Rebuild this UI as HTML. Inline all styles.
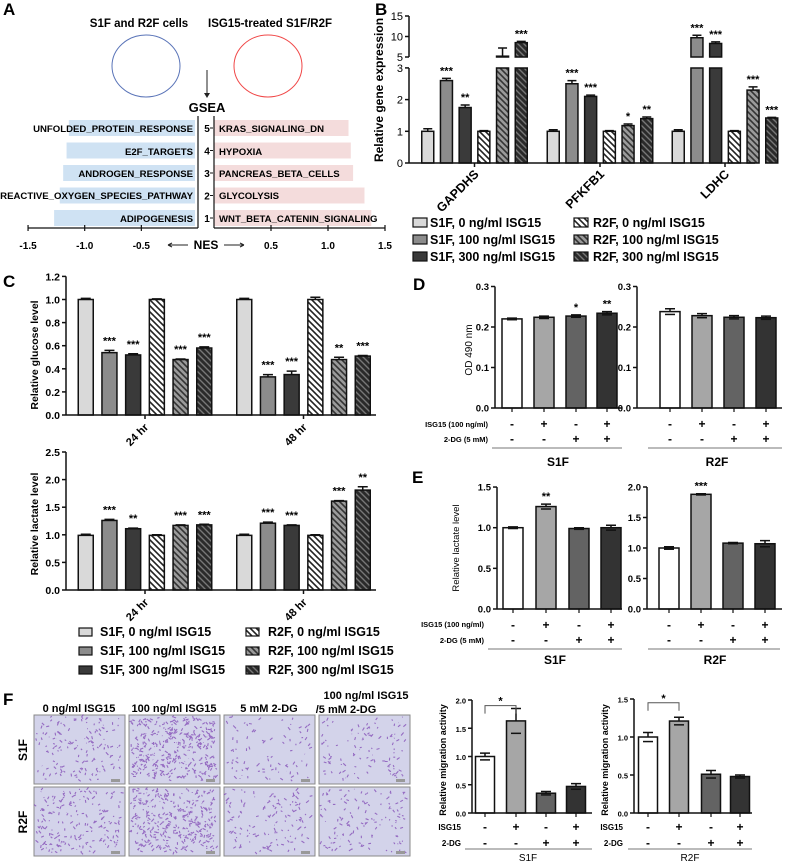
<!DOCTYPE html>
<html><head><meta charset="utf-8"><style>
html,body{margin:0;padding:0;background:#fff;}
svg{display:block;font-family:"Liberation Sans",Arial,sans-serif;font-weight:bold;}
</style></head><body>
<svg id="fig" xmlns="http://www.w3.org/2000/svg" width="790" height="862" viewBox="0 0 790 862">
<defs>
<pattern id="hL" width="6" height="6" patternUnits="userSpaceOnUse"><rect width="6" height="6" fill="#fff"/><path d="M-1,-1 L7,7 M-1,5 L1,7 M5,-1 L7,1" stroke="#222" stroke-width="1.6"/></pattern>
<pattern id="hM" width="6" height="6" patternUnits="userSpaceOnUse"><rect width="6" height="6" fill="#9a9a9a"/><path d="M-1,-1 L7,7 M-1,5 L1,7 M5,-1 L7,1" stroke="#333" stroke-width="1.6"/></pattern>
<pattern id="hD" width="6" height="6" patternUnits="userSpaceOnUse"><rect width="6" height="6" fill="#2a2a2a"/><path d="M-1,-1 L7,7 M-1,5 L1,7 M5,-1 L7,1" stroke="#777" stroke-width="1.4"/></pattern>
</defs>

<!-- Panel A -->
<g>
<text x="3" y="15" font-size="17">A</text>
<text x="139" y="27" font-size="11.5" text-anchor="middle">S1F and R2F cells</text>
<text x="270" y="27" font-size="11.5" text-anchor="middle">ISG15-treated S1F/R2F</text>
<ellipse cx="146" cy="66" rx="34" ry="31" fill="none" stroke="#5a74b8" stroke-width="1"/>
<ellipse cx="268" cy="66" rx="34" ry="31" fill="none" stroke="#f04848" stroke-width="1"/>
<line x1="207" y1="70" x2="207" y2="95" stroke="#222" stroke-width="1"/>
<path d="M204,93 L207,98 L210,93 Z" fill="#222"/>
<text x="207" y="112" font-size="13" text-anchor="middle">GSEA</text>
<g id="gseaBars"></g>
<g font-size="9.6" text-anchor="end">
<text x="193" y="132">UNFOLDED_PROTEIN_RESPONSE</text>
<text x="193" y="155">E2F_TARGETS</text>
<text x="193" y="177">ANDROGEN_RESPONSE</text>
<text x="193" y="199">REACTIVE_OXYGEN_SPECIES_PATHWAY</text>
<text x="193" y="222">ADIPOGENESIS</text>
</g>
<g font-size="9.6">
<text x="219" y="132">KRAS_SIGNALING_DN</text>
<text x="219" y="155">HYPOXIA</text>
<text x="219" y="177">PANCREAS_BETA_CELLS</text>
<text x="219" y="199">GLYCOLYSIS</text>
<text x="219" y="222">WNT_BETA_CATENIN_SIGNALING</text>
</g>
<text x="206" y="249" font-size="12" text-anchor="middle">NES</text>
<path d="M168,245 L188,245 M168,245 L172,243 M168,245 L172,247 M224,245 L244,245 M244,245 L240,243 M244,245 L240,247" stroke="#222" stroke-width="1" fill="none"/>
</g>

<!-- Panel B -->
<g>
<text x="375" y="15" font-size="17">B</text>
<text transform="translate(383,90) rotate(-90)" font-size="12" text-anchor="middle">Relative gene expression</text>
<g id="panelB"></g>
<g font-size="12.5">
<rect x="413" y="218" width="14" height="9" fill="#d9d9d9" stroke="#111" stroke-width="1.2"/>
<text x="430" y="227">S1F, 0 ng/ml ISG15</text>
<rect x="413" y="235" width="14" height="9" fill="#8c8c8c" stroke="#111" stroke-width="1.2"/>
<text x="430" y="244">S1F, 100 ng/ml ISG15</text>
<rect x="413" y="252" width="14" height="9" fill="#3a3a3a" stroke="#111" stroke-width="1.2"/>
<text x="430" y="261">S1F, 300 ng/ml ISG15</text>
<rect x="574" y="218" width="14" height="9" fill="url(#hL)" stroke="#111" stroke-width="1.2"/>
<text x="593" y="227">R2F, 0 ng/ml ISG15</text>
<rect x="574" y="235" width="14" height="9" fill="url(#hM)" stroke="#111" stroke-width="1.2"/>
<text x="593" y="244">R2F, 100 ng/ml ISG15</text>
<rect x="574" y="252" width="14" height="9" fill="url(#hD)" stroke="#111" stroke-width="1.2"/>
<text x="593" y="261">R2F, 300 ng/ml ISG15</text>
</g>
</g>

<!-- Panel C -->
<g>
<text x="3" y="287" font-size="17">C</text>
<text transform="translate(38,355) rotate(-90)" font-size="10.5" text-anchor="middle">Relative glucose level</text>
<text transform="translate(38,524) rotate(-90)" font-size="10.5" text-anchor="middle">Relative lactate level</text>
<g id="panelC"></g>
<g font-size="12.5">
<rect x="79" y="628" width="13" height="8" fill="#d9d9d9" stroke="#111" stroke-width="1.2"/>
<text x="100" y="636">S1F, 0 ng/ml ISG15</text>
<rect x="79" y="647" width="13" height="8" fill="#8c8c8c" stroke="#111" stroke-width="1.2"/>
<text x="100" y="655">S1F, 100 ng/ml ISG15</text>
<rect x="79" y="666" width="13" height="8" fill="#3a3a3a" stroke="#111" stroke-width="1.2"/>
<text x="100" y="674">S1F, 300 ng/ml ISG15</text>
<rect x="246" y="628" width="13" height="8" fill="url(#hL)" stroke="#111" stroke-width="1.2"/>
<text x="268" y="636">R2F, 0 ng/ml ISG15</text>
<rect x="246" y="647" width="13" height="8" fill="url(#hM)" stroke="#111" stroke-width="1.2"/>
<text x="268" y="655">R2F, 100 ng/ml ISG15</text>
<rect x="246" y="666" width="13" height="8" fill="url(#hD)" stroke="#111" stroke-width="1.2"/>
<text x="268" y="674">R2F, 300 ng/ml ISG15</text>
</g>
</g>

<!-- Panel D -->
<g>
<text x="413" y="290" font-size="17">D</text>
<text transform="translate(472,350) rotate(-90)" font-size="10" font-weight="normal" text-anchor="middle">OD 490 nm</text>
<g font-size="7.5" text-anchor="end">
<text x="488" y="427">ISG15 (100 ng/ml)</text>
<text x="488" y="442">2-DG (5 mM)</text>
</g>
<text x="558" y="466" font-size="12" text-anchor="middle">S1F</text>
<text x="717" y="466" font-size="12" text-anchor="middle">R2F</text>
<g id="panelD"></g>
</g>

<!-- Panel E -->
<g>
<text x="412" y="483" font-size="17">E</text>
<text transform="translate(459,548) rotate(-90)" font-size="9.5" font-weight="normal" text-anchor="middle">Relative lactate level</text>
<g font-size="7.5" text-anchor="end">
<text x="484" y="627">ISG15 (100 ng/ml)</text>
<text x="484" y="643">2-DG (5 mM)</text>
</g>
<text x="555" y="664" font-size="12" text-anchor="middle">S1F</text>
<text x="715" y="664" font-size="12" text-anchor="middle">R2F</text>
<g id="panelE"></g>
</g>

<!-- Panel F -->
<g>
<text x="3" y="705" font-size="17">F</text>
<g font-size="11" text-anchor="middle">
<text x="79" y="712">0 ng/ml ISG15</text>
<text x="174" y="712">100 ng/ml ISG15</text>
<text x="269" y="712">5 mM 2-DG</text>
<text x="366" y="699">100 ng/ml ISG15</text>
<text x="346" y="713">/5 mM 2-DG</text>
</g>
<text transform="translate(27,750) rotate(-90)" font-size="12" text-anchor="middle">S1F</text>
<text transform="translate(27,822) rotate(-90)" font-size="12" text-anchor="middle">R2F</text>
<g id="fImages"></g>
<text transform="translate(446,760) rotate(-90)" font-size="9" text-anchor="middle">Relative migration activity</text>
<text transform="translate(608,760) rotate(-90)" font-size="9" text-anchor="middle">Relative migration activity</text>
<g font-size="8" text-anchor="end">
<text x="461" y="830">ISG15</text>
<text x="461" y="846">2-DG</text>
<text x="623" y="830">ISG15</text>
<text x="623" y="846">2-DG</text>
</g>
<text x="528" y="861" font-size="10" text-anchor="middle" font-weight="normal">S1F</text>
<text x="690" y="861" font-size="10" text-anchor="middle" font-weight="normal">R2F</text>
<g id="panelF"></g>
</g>
</svg>

<script>
// ---------- DATA ----------
const gseaRanks = ['5','4','3','2','1'];
const gseaNeg = [-1.14, -1.16, -1.19, -1.22, -1.27];
const gseaPos = [1.18, 1.20, 1.22, 1.32, 1.38];
const gseaTicks = [-1.5, -1.0, -0.5, 0.5, 1.0, 1.5];
const gseaTickLabels = ['-1.5', '-1.0', '-0.5', '0.5', '1.0', '1.5'];

const bGenes = ['GAPDHS', 'PFKFB1', 'LDHC'];
const bVals = [[1.0, 2.6, 1.75, 1.0, 5.2, 8.5], [1.0, 2.5, 2.1, 1.0, 1.18, 1.4], [1.0, 9.7, 8.3, 1.0, 2.3, 1.42]];
const bErr = [[0.08, 0.07, 0.08, 0.02, 2.0, 0.3], [0.05, 0.1, 0.04, 0.02, 0.05, 0.05], [0.05, 0.6, 0.4, 0.02, 0.1, 0.02]];
const bStars = [['', '***', '**', '', '', '***'], ['', '***', '***', '', '*', '**'], ['', '***', '***', '', '***', '***']];
const bTicksLow = [0, 1, 2, 3];
const bTicksHigh = [5, 10, 15];

const cGroups = ['24 hr', '48 hr'];
const cGlu = [[1.0, 0.54, 0.52, 1.0, 0.48, 0.58], [1.0, 0.33, 0.35, 1.0, 0.48, 0.51]];
const cGluErr = [[0.01, 0.02, 0.01, 0.005, 0.005, 0.01], [0.01, 0.02, 0.03, 0.02, 0.02, 0.005]];
const cGluStars = [['', '***', '***', '', '***', '***'], ['', '***', '***', '', '**', '***']];
const cGluTicks = [0, 0.2, 0.4, 0.6, 0.8, 1.0, 1.2];
const cGluTickLabels = ['0.0', '0.2', '0.4', '0.6', '0.8', '1.0', '1.2'];
const cLac = [[0.99, 1.26, 1.11, 0.99, 1.17, 1.18], [0.99, 1.21, 1.17, 0.99, 1.61, 1.81]];
const cLacErr = [[0.02, 0.02, 0.01, 0.01, 0.01, 0.01], [0.02, 0.02, 0.01, 0.01, 0.01, 0.06]];
const cLacStars = [['', '***', '**', '', '***', '***'], ['', '***', '***', '', '***', '**']];
const cLacTicks = [0, 0.5, 1.0, 1.5, 2.0, 2.5];
const cLacTickLabels = ['0.0', '0.5', '1.0', '1.5', '2.0', '2.5'];

const isgSigns = ['-', '+', '-', '+'];
const dgSigns = ['-', '-', '+', '+'];

const dS1F = [0.220, 0.224, 0.227, 0.234];
const dS1FErr = [0.002, 0.003, 0.003, 0.004];
const dS1FStars = ['', '', '*', '**'];
const dR2F = [0.238, 0.228, 0.224, 0.223];
const dR2FErr = [0.007, 0.005, 0.004, 0.004];
const dR2FStars = ['', '', '', ''];
const dTicks = [0, 0.1, 0.2, 0.3];
const dTickLabels = ['0.0', '0.1', '0.2', '0.3'];

const eS1F = [1.0, 1.26, 0.99, 1.0];
const eS1FErr = [0.01, 0.03, 0.01, 0.03];
const eS1FStars = ['', '**', '', ''];
const eR2F = [1.0, 1.88, 1.08, 1.07];
const eR2FErr = [0.02, 0.01, 0.01, 0.05];
const eR2FStars = ['', '***', '', ''];
const eS1FTicks = [0, 0.5, 1.0, 1.5];
const eS1FTickLabels = ['0.0', '0.5', '1.0', '1.5'];
const eR2FTicks = [0, 0.5, 1.0, 1.5, 2.0];
const eR2FTickLabels = ['0.0', '0.5', '1.0', '1.5', '2.0'];

const fS1F = [1.0, 1.63, 0.35, 0.47];
const fS1FErr = [0.06, 0.22, 0.03, 0.05];
const fR2F = [1.0, 1.21, 0.51, 0.48];
const fR2FErr = [0.06, 0.05, 0.05, 0.02];
const fS1FTicks = [0, 0.5, 1.0, 1.5, 2.0];
const fS1FTickLabels = ['0.0', '0.5', '1.0', '1.5', '2.0'];
const fR2FTicks = [0, 0.5, 1.0, 1.5];
const fR2FTickLabels = ['0.0', '0.5', '1.0', '1.5'];
const fImgDensity = [[0.35, 0.9, 0.2, 0.25], [0.45, 0.8, 0.3, 0.3]];

// ---------- HELPERS ----------
const NS = 'http://www.w3.org/2000/svg';
function mk(tag, attrs, parent) {
  const e = document.createElementNS(NS, tag);
  for (const k in attrs) e.setAttribute(k, attrs[k]);
  parent.appendChild(e);
  return e;
}
function label(parent, x, y, txt, size, anchor, name, extra) {
  const t = mk('text', Object.assign({x: x, y: y, 'font-size': size, 'text-anchor': anchor}, extra || {}), parent);
  t.textContent = txt;
  
  
  return t;
}
function line(parent, x1, y1, x2, y2, w, name, color) {
  const l = mk('line', {x1: x1, y1: y1, x2: x2, y2: y2, stroke: color || '#111', 'stroke-width': w}, parent);
  
  
  return l;
}
function barRect(parent, x, y, w, h, fill, name) {
  const r = mk('rect', {x: x, y: y, width: w, height: Math.max(0, h), fill: fill, stroke: '#111', 'stroke-width': 1.5}, parent);
  
  
  return r;
}
function errBar(parent, cx, yTop, yMid, hw, name) {
  const p = mk('path', {d: 'M' + cx + ',' + yMid + ' L' + cx + ',' + yTop + ' M' + (cx - hw) + ',' + yTop + ' L' + (cx + hw) + ',' + yTop, stroke: '#111', 'stroke-width': 1.5, fill: 'none'}, parent);
  
  
}

// ---------- PANEL A ----------
(function () {
  const g = document.getElementById('gseaBars');
  const negZero = 198, posZero = 214, ppuN = 113.3, ppuP = 114;
  const rowY = function (i) { return 120 + i * 22.5; };
  gseaNeg.forEach(function (v, i) {
    const x = negZero + v * ppuN;
    const r = mk('rect', {x: x, y: rowY(i), width: negZero - 3 - x, height: 16, fill: '#cfe2f3'}, g);
    
    
  });
  gseaPos.forEach(function (v, i) {
    const x = posZero + v * ppuP;
    const r = mk('rect', {x: posZero, y: rowY(i), width: x - posZero, height: 16, fill: '#f4dcdc'}, g);
    
    
    label(g, 207, rowY(i) + 12, gseaRanks[i], 10, 'middle', 'gsea-rank-' + gseaRanks[i]);
    line(g, 210, rowY(i) + 8, 213, rowY(i) + 8, 1, 'gsea-rank-tick');
  });
  line(g, 198, 116, 198, 228, 1.2, 'gsea-neg-zero-line');
  line(g, 214, 116, 214, 228, 1.2, 'gsea-pos-zero-line');
  line(g, 28, 228, 198, 228, 1.2, 'gsea-neg-axis');
  line(g, 214, 228, 385, 228, 1.2, 'gsea-pos-axis');
  gseaTicks.forEach(function (v, i) {
    const x = v < 0 ? negZero + v * ppuN : posZero + v * ppuP;
    line(g, x, 225, x, 231, 1.2, 'gsea-tick');
    label(g, x, 249, gseaTickLabels[i], 10, 'middle', 'gsea-tick-label');
  });
})();

// ---------- PANEL B ----------
(function () {
  const g = document.getElementById('panelB');
  const ax = 409, y0 = 163, yBrkLow = 68, yBrkHigh = 57;
  function yB(v) { return v <= 3 ? y0 - v * 31.7 : yBrkHigh - (v - 5) * 4.1; }
  const fills = ['#d9d9d9', '#8c8c8c', '#3a3a3a', 'url(#hL)', 'url(#hM)', 'url(#hD)'];
  const centers = [474.5, 600, 725];
  const sp = 18.7, w = 12;
  bGenes.forEach(function (gene, gi) {
    bVals[gi].forEach(function (v, si) {
      const cx = centers[gi] + (si - 2.5) * sp;
      const nm = 'b-bar-' + gene.toLowerCase() + '-' + si;
      if (v > 3) {
        barRect(g, cx - w / 2, yBrkLow, w, y0 - yBrkLow, fills[si], nm);
        barRect(g, cx - w / 2, yB(v), w, yBrkHigh - yB(v), fills[si], nm + '-upper');
      } else {
        barRect(g, cx - w / 2, yB(v), w, y0 - yB(v), fills[si], nm);
      }
      const top = yB(v + bErr[gi][si]);
      errBar(g, cx, top, yB(v), 4.5, nm + '-error');
      if (bStars[gi][si]) label(g, cx, top - 4, bStars[gi][si], 11, 'middle', nm + '-significance');
    });
    line(g, centers[gi], y0, centers[gi], y0 + 4, 1.5, 'b-x-tick');
    label(g, centers[gi] + 5, y0 + 12, gene, 12.5, 'end', 'b-x-label-' + gene.toLowerCase(), {transform: 'rotate(-45 ' + (centers[gi] + 5) + ' ' + (y0 + 12) + ')'});
  });
  line(g, ax, y0, 755, y0, 1.5, 'b-x-axis');
  line(g, ax, y0, ax, yBrkLow, 1.5, 'b-y-axis-lower');
  line(g, ax, yBrkHigh, ax, yB(15), 1.5, 'b-y-axis-upper');
  bTicksLow.concat(bTicksHigh).forEach(function (v) {
    line(g, ax - 4, yB(v), ax, yB(v), 1.5, 'b-y-tick');
    label(g, ax - 6, yB(v) + 4, String(v), 11, 'end', 'b-y-tick-label', {'font-weight': 'normal'});
  });
})();

// ---------- PANEL C ----------
function groupedSix(g, prefix, ax, xEnd, y0, ppu, vals, errs, stars, ticks, tickLabels, labY) {
  const fills = ['#d9d9d9', '#8c8c8c', '#3a3a3a', 'url(#hL)', 'url(#hM)', 'url(#hD)'];
  const centers = [145, 303.5], sp = 23.7, w = 15;
  const y = function (v) { return y0 - v * ppu; };
  cGroups.forEach(function (grp, gi) {
    vals[gi].forEach(function (v, si) {
      const cx = centers[gi] + (si - 2.5) * sp;
      const nm = prefix + '-bar-' + gi + '-' + si;
      barRect(g, cx - w / 2, y(v), w, y0 - y(v), fills[si], nm);
      const top = y(v + errs[gi][si]);
      errBar(g, cx, top, y(v), 5, nm + '-error');
      if (stars[gi][si]) label(g, cx, top - 6, stars[gi][si], 11, 'middle', nm + '-significance');
    });
    line(g, centers[gi], y0, centers[gi], y0 + 4, 1.5, prefix + '-x-tick');
    label(g, centers[gi] + 4, labY, grp, 11, 'end', prefix + '-x-label', {transform: 'rotate(-45 ' + (centers[gi] + 4) + ' ' + labY + ')'});
  });
  line(g, ax, y0, xEnd, y0, 1.5, prefix + '-x-axis');
  line(g, ax, y0, ax, y(ticks[ticks.length - 1]), 1.5, prefix + '-y-axis');
  ticks.forEach(function (v, i) {
    line(g, ax - 4, y(v), ax, y(v), 1.5, prefix + '-y-tick');
    label(g, ax - 6, y(v) + 4, tickLabels[i], 10.5, 'end', prefix + '-y-tick-label');
  });
}
(function () {
  const g = document.getElementById('panelC');
  groupedSix(g, 'c-glucose', 66, 376, 415, 115.5, cGlu, cGluErr, cGluStars, cGluTicks, cGluTickLabels, 428);
  groupedSix(g, 'c-lactate', 66, 376, 590, 55.2, cLac, cLacErr, cLacStars, cLacTicks, cLacTickLabels, 603);
})();

// ---------- FOUR-BAR CHARTS (D, E, F) ----------
function fourBar(g, prefix, ax, xEnd, y0, ppu, centers, w, vals, errs, stars, ticks, tickLabels, tickSize, signY1, signY2, lineY, lineX1, lineX2) {
  const fills = ['#ffffff', '#a6a6a6', '#636363', '#333333'];
  const y = function (v) { return y0 - v * ppu; };
  vals.forEach(function (v, i) {
    const cx = centers[i];
    const nm = prefix + '-bar-' + i;
    barRect(g, cx - w / 2, y(v), w, y0 - y(v), fills[i], nm);
    const top = y(v + errs[i]);
    errBar(g, cx, top, y(v), 5, nm + '-error');
    line(g, cx - 5, y(v - errs[i]), cx + 5, y(v - errs[i]), 1.5, nm + '-error-low');
    if (stars && stars[i]) label(g, cx, top - 4, stars[i], 11, 'middle', nm + '-significance');
    line(g, cx, y0, cx, y0 + 4, 1.2, prefix + '-x-tick');
    label(g, cx, signY1, isgSigns[i], 12, 'middle', prefix + '-isg15-sign');
    label(g, cx, signY2, dgSigns[i], 12, 'middle', prefix + '-2dg-sign');
  });
  line(g, ax, y0, xEnd, y0, 1.5, prefix + '-x-axis');
  line(g, ax, y0, ax, y(ticks[ticks.length - 1]), 1.5, prefix + '-y-axis');
  ticks.forEach(function (v, i) {
    line(g, ax - 4, y(v), ax, y(v), 1.5, prefix + '-y-tick');
    label(g, ax - 6, y(v) + 3.5, tickLabels[i], tickSize, 'end', prefix + '-y-tick-label');
  });
  line(g, lineX1, lineY, lineX2, lineY, 1, prefix + '-group-underline', '#777');
}
(function () {
  const d = document.getElementById('panelD');
  fourBar(d, 'd-s1f', 495, 622, 408, 405, [512, 544, 576, 607], 20, dS1F, dS1FErr, dS1FStars, dTicks, dTickLabels, 9.5, 428, 443, 448, 492, 622);
  fourBar(d, 'd-r2f', 637, 782, 408, 405, [670, 702, 734, 766], 20, dR2F, dR2FErr, dR2FStars, dTicks, dTickLabels, 9.5, 428, 443, 448, 648, 782);
  const e = document.getElementById('panelE');
  fourBar(e, 'e-s1f', 497, 622, 609, 81.3, [513, 546, 579, 611], 20, eS1F, eS1FErr, eS1FStars, eS1FTicks, eS1FTickLabels, 9.5, 629, 644, 649, 488, 622);
  fourBar(e, 'e-r2f', 647, 782, 609, 61, [669, 701, 733, 765], 20, eR2F, eR2FErr, eR2FStars, eR2FTicks, eR2FTickLabels, 9.5, 629, 644, 649, 648, 780);
  const f = document.getElementById('panelF');
  fourBar(f, 'f-s1f', 472, 592, 813, 56.5, [485, 516, 546, 576], 19, fS1F, fS1FErr, null, fS1FTicks, fS1FTickLabels, 7.5, 831, 847, 849, 465, 592);
  fourBar(f, 'f-r2f', 634, 752, 813, 76, [648, 679, 711, 740], 19, fR2F, fR2FErr, null, fR2FTicks, fR2FTickLabels, 7.5, 831, 847, 849, 628, 752);
  [[485, 516, 813 - 1.9 * 56.5], [648, 679, 813 - 1.45 * 76]].forEach(function (b, i) {
    const p = mk('path', {d: 'M' + b[0] + ',' + (b[2] + 8) + ' L' + b[0] + ',' + b[2] + ' L' + b[1] + ',' + b[2] + ' L' + b[1] + ',' + (b[2] + 8), stroke: '#555', 'stroke-width': 1, fill: 'none'}, f);
    
    
    label(f, (b[0] + b[1]) / 2, b[2] - 1, '*', 11, 'middle', 'f-significance-star-' + i);
  });
})();

// ---------- PANEL F IMAGES ----------
(function () {
  const g = document.getElementById('fImages');
  const xs = [34, 129, 224, 319], ys = [715, 787], w = 91, h = 69;
  let seed = 12345;
  function rnd() { seed = (seed * 1103515245 + 12345) % 2147483648; return seed / 2147483648; }
  ys.forEach(function (y, r) {
    xs.forEach(function (x, c) {
      const den = fImgDensity[r][c];
      const bg = mk('rect', {x: x, y: y, width: w, height: h, fill: '#d3d3ea', stroke: '#888', 'stroke-width': 1}, g);
      
      
      let d = '';
      const n = Math.round(den * 420);
      for (let k = 0; k < n; k++) {
        const px = x + 2 + rnd() * (w - 6), py = y + 2 + rnd() * (h - 6);
        const dx = (rnd() - 0.5) * 6, dy = (rnd() - 0.5) * 6;
        d += 'M' + px.toFixed(1) + ',' + py.toFixed(1) + ' l' + dx.toFixed(1) + ',' + dy.toFixed(1) + ' ';
      }
      const sp = mk('path', {d: d, stroke: '#7a3fb0', 'stroke-width': 1.1, 'stroke-opacity': 0.7, fill: 'none'}, g);
      
      
      const sb = mk('rect', {x: x + w - 14, y: y + h - 5, width: 9, height: 3, fill: '#999'}, g);
      
      
    });
  });
})();
</script>
</body></html>
